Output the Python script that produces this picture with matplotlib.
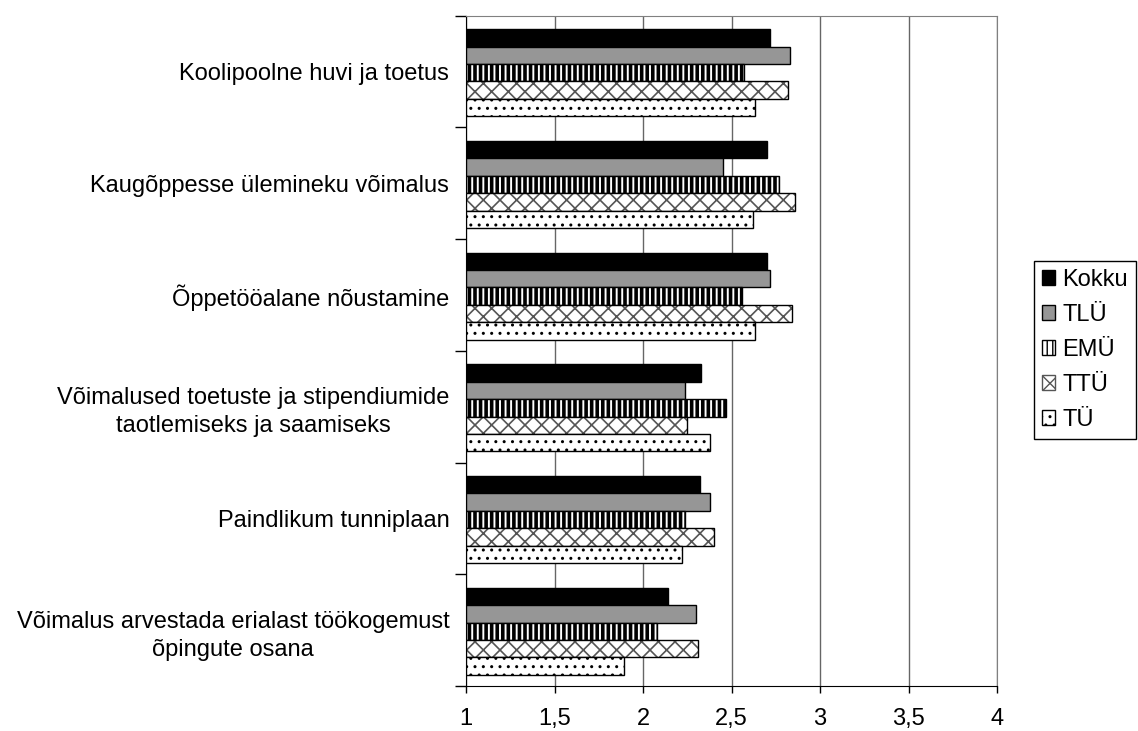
import numpy as np
import matplotlib.pyplot as plt

plt.rcParams['font.family'] = ['Liberation Sans', 'DejaVu Sans']

categories = [
    "Koolipoolne huvi ja toetus",
    "Kaugõppesse ülemineku võimalus",
    "Õppetööalane nõustamine",
    "Võimalused toetuste ja stipendiumide\ntaotlemiseks ja saamiseks",
    "Paindlikum tunniplaan",
    "Võimalus arvestada erialast töökogemust\nõpingute osana",
]
series_names = ["Kokku", "TLÜ", "EMÜ", "TTÜ", "TÜ"]
kokku = [2.72, 2.70, 2.70, 2.33, 2.32, 2.14]
tlu = [2.83, 2.45, 2.72, 2.24, 2.38, 2.30]
emu = [2.57, 2.77, 2.56, 2.47, 2.24, 2.08]
ttu = [2.82, 2.86, 2.84, 2.25, 2.40, 2.31]
tu = [2.63, 2.62, 2.63, 2.38, 2.22, 1.89]
x_ticks = [1, 1.5, 2, 2.5, 3, 3.5, 4]
x_tick_labels = ["1", "1,5", "2", "2,5", "3", "3,5", "4"]

fig = plt.figure(figsize=(11.38, 7.31), dpi=100)
ax = fig.add_axes([0.4095, 0.0616, 0.4666, 0.9169])

base = np.arange(len(categories))
h = 0.156
off = 0.12 + h / 2

def bars(vals, j, **kw):
    y = base + off + j * h
    w = np.array(vals) - 1
    return ax.barh(y, w, height=h, left=1, zorder=3, **kw)

b0 = bars(kokku, 0, color='black', edgecolor='black', linewidth=1)
b1 = bars(tlu, 1, color='#969696', edgecolor='black', linewidth=1)
with plt.rc_context({'hatch.linewidth': 2.6}):
    b2 = bars(emu, 2, color='white', edgecolor='black', hatch='|||', linewidth=1)
with plt.rc_context({'hatch.linewidth': 1.2}):
    bars(ttu, 3, color='white', edgecolor='#555555', hatch='xx', linewidth=0)
    b3h = plt.Rectangle((0, 0), 1, 1, facecolor='white', edgecolor='#555555', hatch='xx')
b3 = bars(ttu, 3, fill=False, edgecolor='black', linewidth=1)
b4 = bars(tu, 4, color='white', edgecolor='black', hatch='..', linewidth=1)

ax.set_xlim(1, 4)
ax.set_ylim(len(categories), 0)
ax.set_xticks(x_ticks)
ax.set_xticklabels(x_tick_labels, fontsize=17)
ax.set_yticks(base + 0.5)
ax.set_yticklabels(categories, fontsize=17, ha='right', multialignment='center',
                   linespacing=1.35)
ax.set_yticks(np.arange(len(categories) + 1), minor=True)
ax.tick_params(axis='y', which='major', length=0, pad=12)
ax.tick_params(axis='y', which='minor', length=8, direction='out', width=1)
ax.tick_params(axis='x', length=5, direction='out', pad=11, width=1)
ax.xaxis.grid(True, color='#666666', linewidth=1, zorder=0)
ax.set_axisbelow(True)
for s in ['top', 'right']:
    ax.spines[s].set_color('#808080')
for s in ['left', 'bottom']:
    ax.spines[s].set_color('black')

leg = fig.legend([b0, b1, b2, b3h, b4], series_names, loc='upper left',
                 bbox_to_anchor=(0.9086, 0.6434), fontsize=17, fancybox=False,
                 framealpha=1, edgecolor='black', handlelength=0.55,
                 handleheight=0.55, handletextpad=0.3, labelspacing=0.55,
                 borderpad=0.35, borderaxespad=0)
leg.get_frame().set_linewidth(1)

fig.savefig('out.png', dpi=100)
